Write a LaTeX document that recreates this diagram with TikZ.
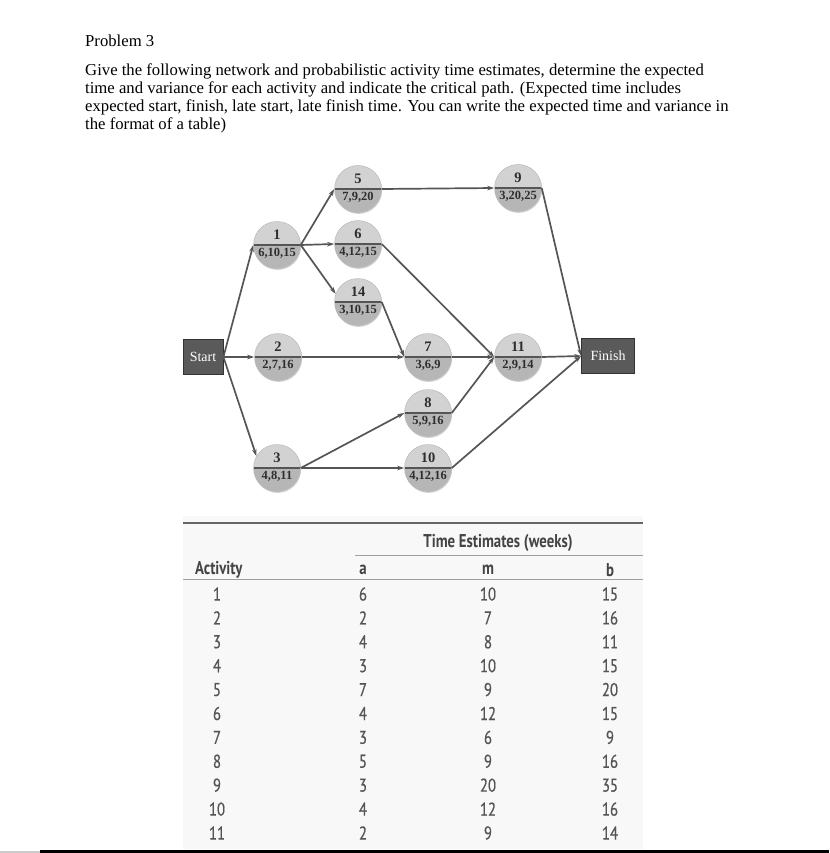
\documentclass[tikz,border=0pt]{standalone}
\usepackage{fontspec}
\setmainfont{Liberation Serif}
\newfontfamily\tabfont[FakeStretch=0.8,FakeBold=0.6]{PT Sans}
\newfontfamily\tabfontb[FakeStretch=0.8]{PT Sans Bold}
\usetikzlibrary{arrows.meta,shadows}
\definecolor{edgec}{HTML}{555555}
\definecolor{topg}{HTML}{D2D2D2}
\definecolor{botg}{HTML}{B6B6B6}
\definecolor{boxg}{HTML}{5A5A5A}
\definecolor{tabtxt}{HTML}{555555}
\definecolor{tabhd}{HTML}{444444}
\definecolor{tabbg}{HTML}{F8F8F8}
\definecolor{numc}{HTML}{2E2E2E}
\tikzset{
  act/.style={circle, minimum size=47pt, inner sep=0pt, draw=gray!55, line width=0.5pt,
    drop shadow={shadow xshift=0.6pt, shadow yshift=-1.4pt, fill=gray!45, opacity=0.8},
    path picture={
      \fill[botg] (path picture bounding box.west) rectangle (path picture bounding box.south east);
      \fill[topg] (path picture bounding box.north west) rectangle (path picture bounding box.east);
      \draw[edgec, line width=1.4pt] (path picture bounding box.west) -- (path picture bounding box.east);
    }},
  toplab/.style={inner sep=0pt, text=numc, font=\fontsize{14.5}{14}\selectfont\bfseries},
  botlab/.style={inner sep=0pt, text=numc, font=\fontsize{12.5}{12}\selectfont\bfseries},
  termbox/.style={rectangle, fill=boxg, draw=black!80, line width=0.8pt, text=white,
    font=\fontsize{14}{14}\selectfont, inner sep=0pt},
  edge/.style={draw=edgec, line width=1.7pt, -{Stealth[length=7pt,width=4.5pt]}},
  para/.style={anchor=base west, inner sep=0pt, font=\fontsize{16.7}{18}\selectfont},
  tcell/.style={inner sep=0pt, text=tabtxt, font=\tabfont\fontsize{18.5}{19}\selectfont},
  thead/.style={inner sep=0pt, text=tabhd, font=\tabfontb\fontsize{18.5}{19}\selectfont},
  trule/.style={draw=gray!75, line width=0.9pt}
}
\newcommand\actnode[4]{%
  \node[act] (#1) at (#2) {};
  \node[toplab] (#1t) at ([yshift=10pt]#1.center) {#3};
  \node[botlab] (#1b) at ([yshift=-8pt]#1.center) {#4};}
\begin{document}
\begin{tikzpicture}[x=1pt,y=-1pt]
\useasboundingbox (0,0) rectangle (829,853);
\fill[white] (0,0) rectangle (829,853);

% text
\node[para] (title) at (85,47) {Problem 3};
\node[para] (l1) at (85,76) {Give the following network and probabilistic activity time estimates, determine the expected};
\node[para] (l2) at (85,94) {time and variance for each activity and indicate the critical path. (Expected time includes};
\node[para] (l3) at (85,112) {expected start, finish, late start, late finish time. You can write the expected time and variance in};
\node[para] (l4) at (85,130) {the format of a table)};

% network
\node[termbox, minimum width=40pt, minimum height=35pt] (start) at (203,357) {Start};
\node[termbox, minimum width=53pt, minimum height=35pt] (finish) at (608,356) {Finish};
\actnode{s1}{277,245}{1}{6,10,15}
\actnode{s2}{278,357}{2}{2,7,16}
\actnode{s3}{277,468}{3}{4,8,11}
\actnode{s5}{358,189}{5}{7,9,20}
\actnode{s6}{358,244}{6}{4,12,15}
\actnode{s14}{358,302}{14}{3,10,15}
\actnode{s7}{428,357}{7}{3,6,9}
\actnode{s8}{428,413}{8}{5,9,16}
\actnode{s10}{428,468}{10}{4,12,16}
\actnode{s9}{518,188}{9}{3,20,25}
\actnode{s11}{518,357}{11}{2,9,14}

\draw[edge] (start.east) -- (s1.west);
\draw[edge] (start.east) -- (s2.west);
\draw[edge] (start.east) -- (s3.150);
\draw[edge] (s1.east) -- (s5.west);
\draw[edge] (s1.east) -- (s6.west);
\draw[edge] (s1.east) -- (s14.160);
\draw[edge] (s5.east) -- (s9.west);
\draw[edge] (s6.east) -- (s11.west);
\draw[edge] (s14.east) -- (s7.west);
\draw[edge] (s2.east) -- (s7.west);
\draw[edge] (s7.east) -- (s11.west);
\draw[edge] (s3.east) -- (s8.west);
\draw[edge] (s3.east) -- (s10.west);
\draw[edge] (s8.east) -- (s11.west);
\draw[edge] (s9.east) -- (finish.west);
\draw[edge] (s11.east) -- (finish.west);
\draw[edge] (s10.east) -- (finish.west);

% table
\fill[tabbg] (183,516) rectangle (643,849);
\coordinate (tl) at (183,523);
\coordinate (tr) at (643,523);
\draw[draw=gray!80!black, line width=2pt] (tl) -- (tr);
\coordinate (ml) at (355,555);
\coordinate (mr) at (643,555);
\draw[trule] (ml) -- (mr);
\coordinate (hl) at (183,579);
\coordinate (hr) at (643,579);
\draw[trule] (hl) -- (hr);
\node[thead] (te) at (498,543) {Time Estimates (weeks)};
\node[thead, anchor=west] (hact) at (195,570) {Activity};
\node[thead] (ha) at (363,570) {a};
\node[thead] (hm) at (488,570) {m};
\node[thead] (hb) at (610,570) {b};
\foreach \i/\a/\m/\b [count=\k from 0] in {1/6/10/15,2/2/7/16,3/4/8/11,4/3/10/15,5/7/9/20,6/4/12/15,7/3/6/9,8/5/9/16,9/3/20/35,10/4/12/16,11/2/9/14}{
  \node[tcell] (r\i act) at (217,594+23.9*\k) {\i};
  \node[tcell] (r\i a) at (363,594+23.9*\k) {\a};
  \node[tcell] (r\i m) at (488,594+23.9*\k) {\m};
  \node[tcell] (r\i b) at (610,594+23.9*\k) {\b};
}

% bottom rule
\coordinate (bl0) at (0,851.5);
\coordinate (bl1) at (40,851.5);
\coordinate (bl2) at (829,851.5);
\draw[gray!40, line width=2pt] (bl0) -- (bl1);
\draw[black, line width=3pt] (bl1) -- (bl2);
\end{tikzpicture}
\end{document}
